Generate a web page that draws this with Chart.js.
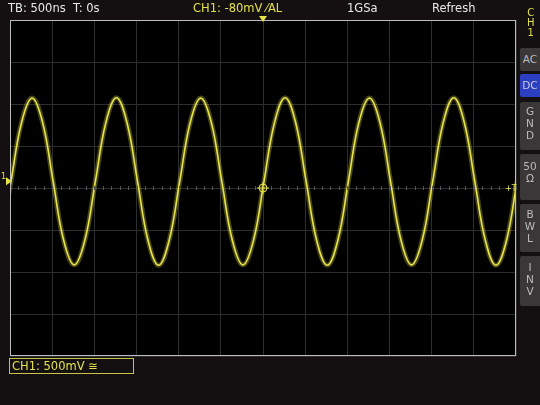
<!DOCTYPE html>
<html><head><meta charset="utf-8">
<script src="https://cdn.jsdelivr.net/npm/chart.js@4"></script>
<style>
body{margin:0;background:#141011;width:540px;height:405px;overflow:hidden;font-family:"DejaVu Sans",sans-serif}
#wrap{position:absolute;left:0;top:0;width:540px;height:405px}
.t{position:absolute;font-size:11.5px;color:#e8e8e8;white-space:nowrap;top:1px}
.btn{position:absolute;left:520px;width:20px;background:#3a3738;color:#bbb;font-size:10.5px;text-align:center;line-height:12px;border-radius:2px 0 0 2px}
</style></head><body>
<div id="wrap"><canvas id="c" width="540" height="405"></canvas></div>
<div class="t" style="left:8px">TB: 500ns&nbsp; T: 0s</div>
<div class="t" style="left:193px;color:#e3e04a">CH1: -80mV ⁄AL</div>
<div class="t" style="left:347px">1GSa</div>
<div class="t" style="left:432px">Refresh</div>
<div class="t" style="left:527px;color:#e3e04a;font-size:10px;line-height:10px;top:8px;text-align:center">C<br>H<br>1</div>
<div class="btn" style="top:48px;height:23px;line-height:23px">AC</div>
<div class="btn" style="top:74px;height:23px;line-height:23px;background:#2c3fc0;color:#ccd">DC</div>
<div class="btn" style="top:102px;height:48px;padding-top:3px;box-sizing:border-box">G<br>N<br>D</div>
<div class="btn" style="top:154px;height:46px;padding-top:6px;box-sizing:border-box">50<br>Ω</div>
<div class="btn" style="top:204px;height:48px;padding-top:4px;box-sizing:border-box">B<br>W<br>L</div>
<div class="btn" style="top:256px;height:50px;padding-top:5px;box-sizing:border-box">I<br>N<br>V</div>
<div style="position:absolute;left:9px;top:358px;width:121px;height:14px;border:1px solid #c8c44a;color:#e3e04a;font-size:11.5px;line-height:14px;padding-left:2px;box-sizing:content-box">CH1: 500mV ≅</div>
<script>
// time in ns, voltage in divisions (500 mV/div)
const times = [-3113,-2988,-2863,-2738,-2613,-2488,-2363,-2238,-2113,-1988,-1863,-1738,-1613,-1488,-1363,-1238,-1113,
  -988,-863,-738,-613,-488,-363,-238,-113,12,137,262,387,512,637,762,887,1012,1137,1262,1387,1512,1637,1762,1887,
  2012,2137,2262,2387,2512,2637,2762,2887,3012,3137];
const volts = [-1.25,0.16,1.56,2.14,1.56,0.15,-1.25,-1.83,-1.25,0.15,1.56,2.15,1.56,0.16,-1.25,-1.84,-1.25,
  0.15,1.56,2.14,1.56,0.15,-1.25,-1.83,-1.25,0.16,1.56,2.15,1.56,0.15,-1.25,-1.84,-1.25,0.15,1.56,2.14,1.56,
  0.16,-1.25,-1.83,-1.25,0.15,1.56,2.15,1.56,0.15,-1.25,-1.84,-1.25,0.16,1.56];

const points = times.map((t, i) => ({x: t, y: volts[i]}));

const scopeDeco = {
  id: 'scopeDeco',
  beforeDraw(chart) {
    const {ctx, chartArea: a} = chart;
    ctx.fillStyle = '#000';
    ctx.fillRect(a.left, a.top, a.right - a.left, a.bottom - a.top);
  },
  afterDatasetsDraw(chart) {
    const {ctx, chartArea: a, scales} = chart;
    const cx = scales.x.getPixelForValue(0), cy = scales.y.getPixelForValue(0);
    ctx.save();
    ctx.strokeStyle = '#555';
    ctx.lineWidth = 1;
    for (let v = -3000; v <= 3000; v += 100) {
      const px = Math.round(scales.x.getPixelForValue(v)) + 0.5;
      ctx.beginPath(); ctx.moveTo(px, cy - 2); ctx.lineTo(px, cy + 2); ctx.stroke();
    }
    ctx.strokeStyle = '#bdbdbd';
    ctx.strokeRect(a.left + 0.5, a.top + 0.5, a.right - a.left - 1, a.bottom - a.top - 1);
    ctx.fillStyle = '#e3e04a';
    ctx.strokeStyle = '#e3e04a';
    ctx.beginPath(); ctx.moveTo(cx - 4, a.top - 4); ctx.lineTo(cx + 4, a.top - 4); ctx.lineTo(cx, a.top + 2); ctx.fill();
    ctx.beginPath(); ctx.arc(cx, cy, 4, 0, Math.PI * 2); ctx.stroke();
    ctx.beginPath(); ctx.moveTo(cx - 6, cy); ctx.lineTo(cx + 6, cy); ctx.moveTo(cx, cy - 6); ctx.lineTo(cx, cy + 6); ctx.stroke();
    const ly = scales.y.getPixelForValue(0.16);
    ctx.beginPath(); ctx.moveTo(a.left + 2, ly); ctx.lineTo(a.left - 4, ly - 4); ctx.lineTo(a.left - 4, ly + 4); ctx.fill();
    ctx.font = '8px DejaVu Sans';
    ctx.fillText('1', 1, ly - 2);
    ctx.fillText('+T', a.right - 11, cy + 3);
    ctx.restore();
  }
};

new Chart(document.getElementById('c'), {
  type: 'line',
  data: {
    datasets: [
      {data: points, borderColor: 'rgba(227,224,74,0.3)', borderWidth: 5, tension: 0.4, pointRadius: 0},
      {data: points, borderColor: '#e8e450', borderWidth: 1.6, tension: 0.4, pointRadius: 0}
    ]
  },
  options: {
    responsive: false,
    animation: false,
    layout: {padding: {left: 10, right: 24, top: 20, bottom: 49}},
    plugins: {legend: {display: false}, tooltip: {enabled: false}},
    scales: {
      x: {
        type: 'linear', min: -3000, max: 3000,
        ticks: {display: false, stepSize: 500},
        grid: {color: '#2e2e2e', drawTicks: false},
        border: {display: false}
      },
      y: {
        min: -4, max: 4,
        ticks: {display: false, stepSize: 1},
        grid: {color: '#2e2e2e', drawTicks: false},
        border: {display: false}
      }
    }
  },
  plugins: [scopeDeco]
});
</script>
</body></html>
